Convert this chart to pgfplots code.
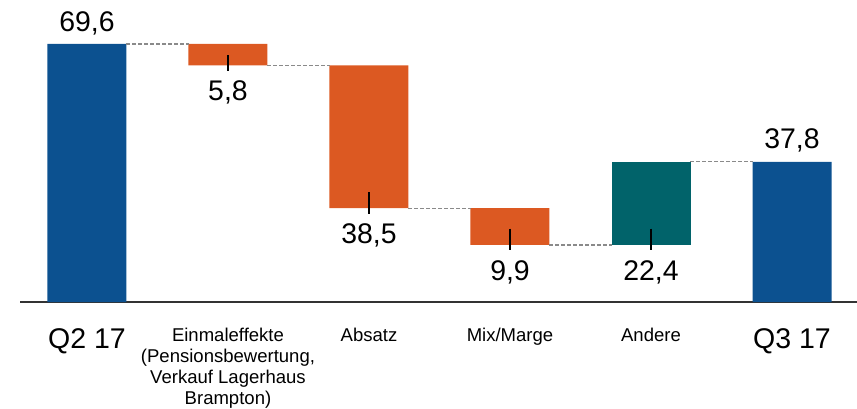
\documentclass[border=0pt]{standalone}
\usepackage{pgfplots}
\pgfplotsset{compat=1.18}
\usepackage{pgfplotstable}
\usepackage{fontspec}
\setmainfont{Liberation Sans}
\definecolor{cblue}{HTML}{0C5190}
\definecolor{corange}{HTML}{DC5922}
\definecolor{cteal}{HTML}{01636A}
\definecolor{axisgray}{HTML}{333333}
\definecolor{dashgray}{HTML}{8A8A8A}

\pgfplotstableread{
x base blue orange teal
0 0    69.6 0    0
1 63.8 0    5.8  0
2 25.3 0    38.5 0
3 15.4 0    9.9  0
4 15.4 0    0    22.4
5 0    37.8 0    0
}\bars

\pgfplotstableread{
x y lab
1 63.8 5,8
2 25.3 38,5
3 15.4 9,9
4 15.4 22,4
}\below

\pgfplotstableread{
x y lab
0 69.6 69,6
5 37.8 37,8
}\above

\pgfplotsset{common/.style={at={(0,0)}, anchor=south west, scale only axis,
  width=837bp, height=302bp, xmin=-0.475, xmax=5.461, ymin=0, ymax=81.47,
  enlargelimits=false},
  conn/.style={dashgray, line width=1.2bp, dash pattern=on 3.5bp off 2.5bp},
  tickmark/.style={black, line width=2bp, mark=none}}

\begin{document}
\begin{tikzpicture}
\path[use as bounding box] (-20bp,-107bp) rectangle (837bp,302bp);
\begin{axis}[common, ybar stacked, bar width=79bp,
  axis x line*=bottom, axis y line=none,
  axis line style={-, draw=axisgray, line width=1.5bp},
  xtick={0,...,5}, major tick length=0pt, ytick=\empty,
  xticklabels={{\fontsize{28.6}{30}\selectfont Q2 17},
    {Einmaleffekte\\(Pensionsbewertung,\\Verkauf Lagerhaus\\Brampton)},
    {Absatz}, {Mix/Marge}, {Andere},
    {\fontsize{28.6}{30}\selectfont Q3 17}},
  xticklabel style={font=\fontsize{18.6}{21}\selectfont, align=center,
    anchor=north, inner sep=0pt, yshift=-26bp}]
\addplot[draw=none, fill=none] table[x=x,y=base]{\bars};
\addplot[draw=none, fill=cblue] table[x=x,y=blue]{\bars};
\addplot[draw=none, fill=corange] table[x=x,y=orange]{\bars};
\addplot[draw=none, fill=cteal] table[x=x,y=teal]{\bars};
\end{axis}
\begin{axis}[common, hide axis, clip=false]
\addplot[conn] coordinates {(0.28,69.6) (0.72,69.6)};
\addplot[conn] coordinates {(1.28,63.8) (1.72,63.8)};
\addplot[conn] coordinates {(2.28,25.3) (2.72,25.3)};
\addplot[conn] coordinates {(3.28,15.4) (3.72,15.4)};
\addplot[conn] coordinates {(4.28,37.8) (4.72,37.8)};
\addplot[tickmark] coordinates {(1,66.63) (1,62.4)};
\addplot[tickmark] coordinates {(2,29.6) (2,23.8)};
\addplot[tickmark] coordinates {(3,19.8) (3,14.0)};
\addplot[tickmark] coordinates {(4,19.8) (4,14.0)};
\addplot[black, only marks, mark=none, nodes near coords, point meta=explicit symbolic,
  nodes near coords style={anchor=center, yshift=-27bp, font=\fontsize{28.5}{30}\selectfont}]
  table[x=x, y=y, meta=lab]{\below};
\addplot[black, only marks, mark=none, nodes near coords, point meta=explicit symbolic,
  nodes near coords style={anchor=center, yshift=21bp, font=\fontsize{28.5}{30}\selectfont}]
  table[x=x, y=y, meta=lab]{\above};
\end{axis}
\end{tikzpicture}
\end{document}
